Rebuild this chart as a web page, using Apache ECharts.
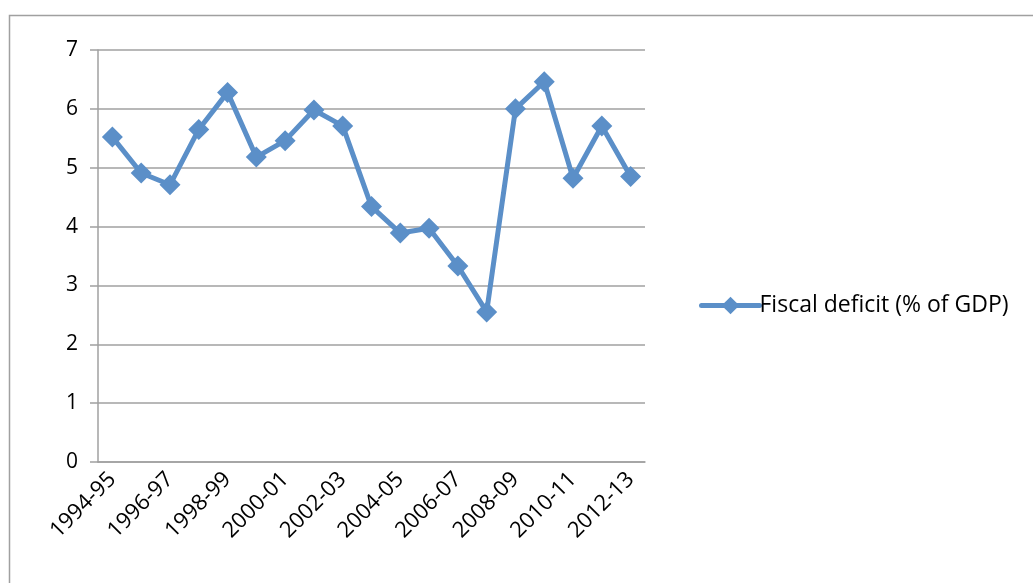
<!DOCTYPE html>
<html>
<head>
<meta charset="utf-8">
<script src="https://cdn.jsdelivr.net/npm/echarts@6/dist/echarts.min.js"></script>
<style>
  html, body { margin: 0; padding: 0; background: #fff; }
  #chart { width: 1033px; height: 583px; }
</style>
</head>
<body>
<div id="chart"></div>
<script>
const years = [
  "1994-95", "1995-96", "1996-97", "1997-98", "1998-99", "1999-00", "2000-01",
  "2001-02", "2002-03", "2003-04", "2004-05", "2005-06", "2006-07", "2007-08",
  "2008-09", "2009-10", "2010-11", "2011-12", "2012-13"
];
const fiscalDeficit = [
  5.52, 4.91, 4.71, 5.65, 6.28, 5.18, 5.46, 5.98, 5.71, 4.34,
  3.89, 3.97, 3.33, 2.55, 6.0, 6.46, 4.82, 5.71, 4.85
];
const seriesName = "Fiscal deficit (% of GDP)";

const font = "'Open Sans', 'Noto Sans', sans-serif";
const grey = "#a0a0a0";
const blue = "#5b8fc8";

const chart = echarts.init(document.getElementById("chart"));

const option = {
  animation: false,
  textStyle: { fontFamily: font },
  graphic: [
    {
      type: "rect",
      shape: { x: 9.5, y: 15.5, width: 1100, height: 700 },
      style: { fill: "none", stroke: grey, lineWidth: 1.5 },
      silent: true
    }
  ],
  grid: { left: 98, right: 388, top: 50, bottom: 121 },
  legend: {
    left: 694,
    top: 289,
    itemWidth: 58,
    itemHeight: 22,
    itemGap: 4,
    lineStyle: { width: 5, cap: "round" },
    textStyle: { fontFamily: font, fontSize: 23, color: "#000", padding: [0, 0, 0, -5] },
    data: [seriesName]
  },
  xAxis: {
    type: "category",
    data: years,
    boundaryGap: true,
    axisLine: { lineStyle: { color: grey, width: 1.5 } },
    axisTick: { interval: 0, length: 7, lineStyle: { color: grey, width: 1.5 } },
    axisLabel: {
      interval: 1,
      rotate: 45,
      fontSize: 22,
      color: "#000",
      fontFamily: font,
      margin: 14
    },
    splitLine: { show: false }
  },
  yAxis: {
    type: "value",
    min: 0,
    max: 7,
    interval: 1,
    axisLine: { show: true, lineStyle: { color: grey, width: 1.5 } },
    axisTick: { show: true, length: 8, lineStyle: { color: grey, width: 1.5 } },
    axisLabel: { fontSize: 21, color: "#000", fontFamily: font, margin: 20 },
    splitLine: { lineStyle: { color: grey, width: 1.5 } }
  },
  series: [
    {
      name: seriesName,
      type: "line",
      data: fiscalDeficit,
      symbol: "diamond",
      symbolSize: 21,
      showAllSymbol: true,
      lineStyle: { color: blue, width: 5 },
      itemStyle: { color: blue },
      emphasis: { disabled: true }
    }
  ]
};

chart.setOption(option);
</script>
</body>
</html>
